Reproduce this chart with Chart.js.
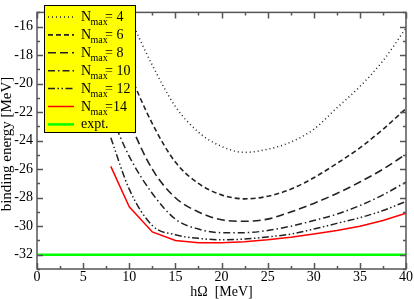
<!DOCTYPE html>
<html>
<head>
<meta charset="utf-8">
<script src="https://cdn.jsdelivr.net/npm/chart.js@4/dist/chart.umd.min.js"></script>
<style>
  html, body { margin: 0; padding: 0; background: #fff; }
  #wrap { width: 414px; height: 299px; }
</style>
</head>
<body>
<div id="wrap"><canvas id="chart" width="414" height="299"></canvas></div>
<script>
// oscillator frequency grid (MeV)
const hw = [8, 10, 12.5, 15, 17.5, 20, 22.5, 25, 27.5, 30, 32.5, 35, 37.5, 40];

// binding energies (MeV) for each Nmax
const nmax4  = [null, -15.3, -18.7, -21.6, -23.4, -24.4, -24.82, -24.6, -24.1, -23.2, -21.7, -20.2, -18.4, -16.1];
const nmax6  = [-15.8, -19.2, -22.8, -25.5, -27.0, -27.8, -28.08, -27.9, -27.4, -26.6, -25.6, -24.5, -23.2, -21.75];
const nmax8  = [-19.0, -22.6, -26.0, -28.0, -29.0, -29.55, -29.65, -29.5, -29.0, -28.4, -27.7, -26.9, -26.0, -24.94];
const nmax10 = [-22.2, -25.1, -27.7, -29.5, -30.2, -30.45, -30.45, -30.3, -30.0, -29.6, -29.15, -28.55, -27.8, -26.9];
const nmax12 = [-23.8, -27.4, -29.95, -30.6, -30.85, -30.95, -30.9, -30.75, -30.55, -30.2, -29.8, -29.4, -28.9, -28.26];
const nmax14 = [-25.8, -28.64, -30.4, -31.0, -31.15, -31.15, -31.08, -30.95, -30.78, -30.55, -30.3, -30.0, -29.6, -29.09];

// experiment
const exptX = [0, 40];
const exptE = [-32, -32];

const legendNames = ['= 4', '= 6', '= 8', '= 10', '= 12', '=14', 'expt.'];
const xTicks = [0, 5, 10, 15, 20, 25, 30, 35, 40];
const yTicks = [-32, -30, -28, -26, -24, -22, -20, -18, -16];
const yTitle = 'binding energy [MeV]';

const SERIF = '"Liberation Serif", "DejaVu Serif", serif';

function pts(ys, xs) {
    xs = xs || hw;
    return xs.map((x, i) => ({ x: x, y: ys[i] }));
}

const styles = [
    { data: nmax4,  color: '#222', dash: [1, 3], width: 1.5 },
    { data: nmax6,  color: '#222', dash: [5, 3], width: 1.6 },
    { data: nmax8,  color: '#222', dash: [8, 4], width: 1.6 },
    { data: nmax10, color: '#222', dash: [7, 3, 1.5, 3], width: 1.5 },
    { data: nmax12, color: '#222', dash: [7, 2.5, 1.5, 2.5, 1.5, 2.5], width: 1.5 },
    { data: nmax14, color: '#ff0000', dash: [], width: 1.5 },
];

const datasets = styles.map((s, i) => ({
    label: legendNames[i],
    data: pts(s.data),
    borderColor: s.color,
    borderWidth: s.width,
    borderDash: s.dash,
    pointRadius: 0,
    fill: false,
    tension: 0,
    cubicInterpolationMode: i < 5 ? 'monotone' : 'default'
}));
datasets.push({
    label: 'expt.',
    data: pts(exptE, exptX),
    borderColor: '#00ff00',
    borderWidth: 2.5,
    borderDash: [],
    pointRadius: 0,
    fill: false
});

// frame with inward ticks on all four sides
const framePlugin = {
    id: 'frame',
    afterDatasetsDraw(chart) {
        const ctx = chart.ctx;
        const a = chart.chartArea;
        const xs = chart.scales.x, ys = chart.scales.y;
        ctx.save();
        ctx.strokeStyle = '#555';
        ctx.lineWidth = 1.5;
        ctx.beginPath();
        for (let v = 0; v <= 40; v += 2.5) {
            const px = Math.round(xs.getPixelForValue(v)) + 0.5;
            const len = (v % 5 === 0) ? 6 : 3;
            ctx.moveTo(px, a.bottom); ctx.lineTo(px, a.bottom - len);
            ctx.moveTo(px, a.top); ctx.lineTo(px, a.top + len);
        }
        for (let v = -33; v <= -15; v += 1) {
            const py = Math.round(ys.getPixelForValue(v)) + 0.5;
            const len = (v % 2 === 0) ? 6 : 3;
            ctx.moveTo(a.left, py); ctx.lineTo(a.left + len, py);
            ctx.moveTo(a.right, py); ctx.lineTo(a.right - len, py);
        }
        ctx.stroke();
        ctx.strokeRect(a.left, a.top, a.right - a.left, a.bottom - a.top);
        ctx.restore();
    }
};

// yellow legend box inside the plot, plus the y axis title
const legendPlugin = {
    id: 'boxLegend',
    afterDraw(chart) {
        const ctx = chart.ctx;
        const bx = 44.5, by = 5.5, bw = 91, bh = 127;
        ctx.save();
        ctx.fillStyle = '#ffff00';
        ctx.fillRect(bx, by, bw, bh);
        ctx.strokeStyle = '#000';
        ctx.lineWidth = 1;
        ctx.strokeRect(bx, by, bw, bh);
        chart.data.datasets.forEach((ds, i) => {
            const y = 16 + i * 17.9;
            ctx.beginPath();
            ctx.setLineDash(ds.borderDash || []);
            ctx.strokeStyle = ds.borderColor;
            ctx.lineWidth = ds.borderWidth;
            ctx.moveTo(48, y + 1);
            ctx.lineTo(74, y + 1);
            ctx.stroke();
            ctx.setLineDash([]);
            ctx.fillStyle = '#000';
            ctx.textBaseline = 'alphabetic';
            if (i < 6) {
                ctx.font = '14px ' + SERIF;
                ctx.fillText('N', 81, y + 5);
                ctx.font = '10px ' + SERIF;
                ctx.fillText('max', 90.5, y + 9);
                ctx.font = '14px ' + SERIF;
                ctx.fillText(ds.label, 105, y + 5);
            } else {
                ctx.font = '14px ' + SERIF;
                ctx.fillText(ds.label, 81, y + 5);
            }
        });

        // y title sits a bit below the axis centre in the original
        ctx.translate(7, 144);
        ctx.rotate(-Math.PI / 2);
        ctx.font = '15px ' + SERIF;
        ctx.textAlign = 'center';
        ctx.textBaseline = 'middle';
        ctx.fillText(yTitle, 0, 0);
        ctx.restore();
    }
};

new Chart(document.getElementById('chart'), {
    type: 'line',
    data: { datasets: datasets },
    options: {
        responsive: false,
        animation: false,
        events: [],
        layout: { padding: { top: 2, right: 8, left: 0, bottom: 0 } },
        plugins: { legend: { display: false }, tooltip: { enabled: false } },
        scales: {
            x: {
                type: 'linear',
                min: 0, max: 40,
                afterBuildTicks: s => { s.ticks = xTicks.map(v => ({ value: v })); },
                afterFit: s => { s.height = 30; },
                grid: { display: false, drawTicks: false },
                border: { display: false },
                ticks: { color: '#000', padding: 0, maxRotation: 0, font: { family: SERIF, size: 14 } },
                title: { display: true, text: 'hΩ  [MeV]', color: '#000', padding: 0,
                         font: { family: SERIF, size: 14, lineHeight: 1 } }
            },
            y: {
                min: -33, max: -15,
                afterBuildTicks: s => { s.ticks = yTicks.map(v => ({ value: v })); },
                afterFit: s => { s.width = 37; },
                grid: { display: false, drawTicks: false },
                border: { display: false },
                ticks: { color: '#000', padding: 4, font: { family: SERIF, size: 14 } }
            }
        }
    },
    plugins: [framePlugin, legendPlugin]
});
</script>
</body>
</html>
